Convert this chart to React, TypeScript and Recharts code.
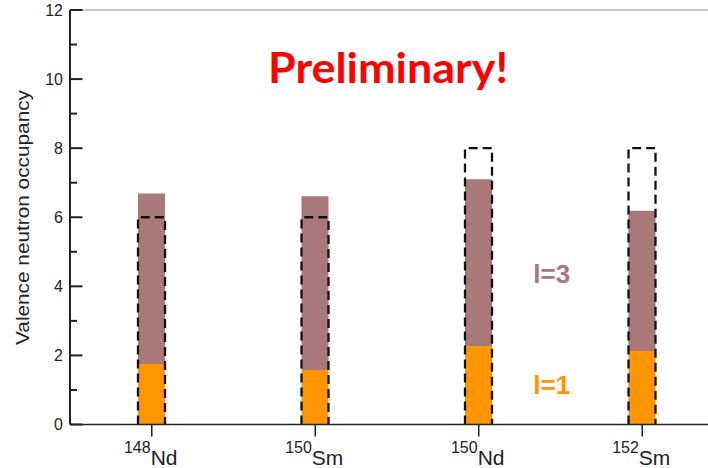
import React from "react";
import { BarChart, Bar, XAxis, YAxis, ReferenceLine } from "recharts";

const isotopeMass = ["148", "150", "150", "152"];
const isotopeElement = ["Nd", "Sm", "Nd", "Sm"];
const l1Values = [1.75, 1.58, 2.27, 2.13];
const l3Values = [4.94, 5.03, 4.83, 4.06];
const capacityValues = [6, 6, 8, 8];
const yTicks = [0, 1, 2, 3, 4, 5, 6, 7, 8, 9, 10, 11, 12];

const data = isotopeMass.map((m, i) => ({
  name: m + isotopeElement[i],
  mass: m,
  element: isotopeElement[i],
  l1: l1Values[i],
  l3: l3Values[i],
  cap: capacityValues[i],
}));

const FONT = "'Liberation Sans', Arial, Helvetica, sans-serif";
const Y_AXIS_WIDTH = 70;

const YTick = (props: any) => {
  const { y, payload, axisX } = props;
  const v = payload.value;
  const major = v % 2 === 0;
  return (
    <g>
      <line x1={axisX} x2={axisX + (major ? 12.5 : 7)} y1={y} y2={y} stroke="#222" strokeWidth={2} />
      {major && (
        <text x={axisX - 7} y={y} dy="0.36em" textAnchor="end" fontSize={16} fontFamily={FONT} fill="#222">
          {v}
        </text>
      )}
    </g>
  );
};

const XTick = (props: any) => {
  const { x, y, payload, index } = props;
  const i = typeof index === "number" ? index : data.findIndex((d) => d.name === payload.value);
  const d = data[i];
  return (
    <text x={x - 1} y={y + 16.8} textAnchor="middle" fontFamily={FONT} fill="#222">
      <tspan fontSize={16}>{d.mass}</tspan>
      <tspan fontSize={21} dy={11.2}>{d.element}</tspan>
    </text>
  );
};

const CapShape = (props: any) => {
  const { x, y, width, height } = props;
  const d = `M${x},${y + height} L${x},${y} L${x + width},${y} L${x + width},${y + height}`;
  return <path d={d} fill="none" stroke="#111" strokeWidth={2.3} strokeDasharray="9 5" />;
};

export default function App() {
  return (
    <div style={{ position: "absolute", left: 0, top: 0, width: 708, height: 468, overflow: "hidden" }}>
      <BarChart width={724} height={468} data={data} margin={{ top: 10, right: 0, left: 0, bottom: 0 }}>
        <XAxis
          dataKey="name"
          height={43.5}
          tickSize={12}
          tickMargin={0}
          interval={0}
          axisLine={{ stroke: "#222", strokeWidth: 1.5 }}
          tickLine={{ stroke: "#222", strokeWidth: 1.5 }}
          tick={<XTick />}
        />
        <XAxis dataKey="name" xAxisId="cap" hide />
        <YAxis
          type="number"
          domain={[0, 12]}
          ticks={yTicks}
          interval={0}
          width={Y_AXIS_WIDTH}
          tickLine={false}
          axisLine={{ stroke: "#222", strokeWidth: 2 }}
          tick={<YTick axisX={Y_AXIS_WIDTH} />}
        />
        <ReferenceLine y={12} stroke="#8a8a8a" strokeWidth={1.2} />
        <Bar dataKey="l1" stackId="a" fill="#ff9500" barSize={27} isAnimationActive={false} />
        <Bar dataKey="l3" stackId="a" fill="#a97878" barSize={27} isAnimationActive={false} />
        <Bar dataKey="cap" xAxisId="cap" barSize={27} shape={<CapShape />} isAnimationActive={false} />
        <text
          x={29}
          y={217.5}
          transform="rotate(-90 29 217.5)"
          textAnchor="middle"
          fontSize={18}
          fontFamily={FONT}
          fill="#222"
          textLength={255}
          lengthAdjust="spacingAndGlyphs"
        >
          Valence neutron occupancy
        </text>
        <text
          x={268}
          y={83.3}
          fontSize={42}
          fontWeight="bold"
          fontFamily="Lato, 'Open Sans', sans-serif"
          fill="#ff0000"
          textLength={240}
          lengthAdjust="spacingAndGlyphs"
        >
          Preliminary!
        </text>
        <text x={533.3} y={283.3} fontSize={26} fontWeight="bold" fontFamily={FONT} fill="#a97878">
          l=3
        </text>
        <text x={533.3} y={394} fontSize={26} fontWeight="bold" fontFamily={FONT} fill="#ff9500">
          l=1
        </text>
      </BarChart>
    </div>
  );
}
